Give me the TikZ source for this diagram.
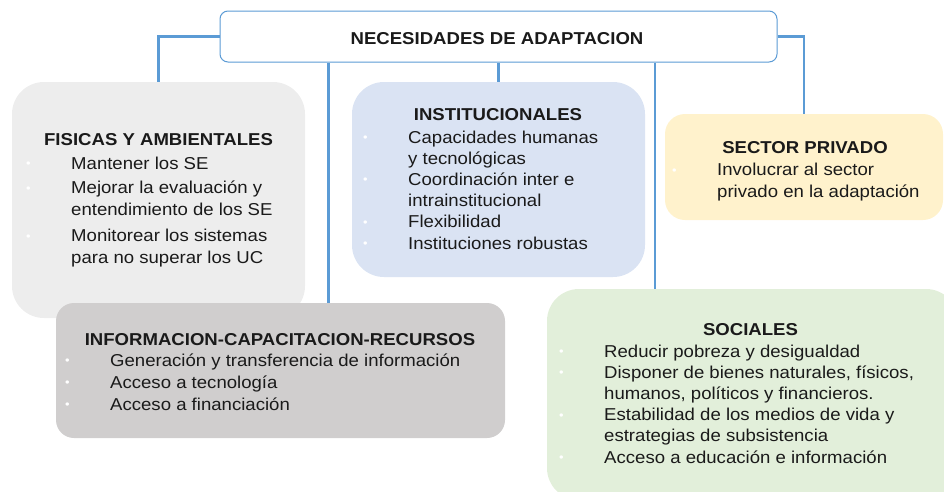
\documentclass[tikz,border=0pt]{standalone}
\usepackage{fontspec}
\setmainfont{Liberation Sans}[FakeStretch=1.08]
\definecolor{conn}{HTML}{5B9BD5}
\definecolor{fisc}{HTML}{EDEDED}
\definecolor{instc}{HTML}{DAE3F3}
\definecolor{privc}{HTML}{FFF2CC}
\definecolor{infoc}{HTML}{D0CECE}
\definecolor{socc}{HTML}{E2EFDA}
\definecolor{ink}{HTML}{1A1A1A}
\newcommand\myb{\makebox[45pt][l]{\textcolor{white}{\fontsize{12}{12}\selectfont\raisebox{1.5pt}{•}}}}
\newcommand\myc{\makebox[45pt]{}}
\begin{document}
\begin{tikzpicture}[x=1pt,y=-1pt,
  panel/.style={rounded corners=#1, inner sep=0pt, draw=none},
  ttl/.style={anchor=base, inner sep=0pt, text=ink, font=\fontsize{17.2}{21.3}\selectfont\bfseries},
  lst/.style={anchor=base west, inner sep=0pt, align=left, text=ink, font=\fontsize{17.2}{#1}\selectfont},
  link/.style={draw=conn, line width=2.6pt}]
\useasboundingbox (0,0) rectangle (944,491);
% boxes
\node[panel=32pt, fill=fisc, minimum width=293pt, minimum height=236pt] (fis) at (158.5,200) {};
\node[panel=32pt, fill=instc, minimum width=293pt, minimum height=195pt] (inst) at (498.5,179.5) {};
\node[panel=20pt, fill=privc, minimum width=278pt, minimum height=106pt] (priv) at (804,167) {};
\node[panel=18pt, fill=infoc, minimum width=449pt, minimum height=135pt] (info) at (280.5,370.5) {};
\node[panel=32pt, fill=socc, minimum width=411pt, minimum height=211pt] (soc) at (752.5,394.5) {};
\node[rounded corners=8pt, draw=conn, line width=1pt, fill=white, inner sep=0pt, minimum width=557pt, minimum height=51pt] (top) at (498.5,36.5) {};
% connectors
\draw[link] (top.west) -| (fis.north);
\draw[link] (top.east) -| (priv.north);
\draw[link] (inst.north |- top.south) -- (inst.north);
\draw[link] ([xshift=48pt]info.north |- top.south) -- ([xshift=48pt]info.north);
\draw[link] ([xshift=-97.5pt]soc.north |- top.south) -- ([xshift=-97.5pt]soc.north);
% titles
\node[ttl] (ttop) at (497,44) {NECESIDADES DE ADAPTACION};
\node[ttl] (tfis) at (158.5,145) {FISICAS Y AMBIENTALES};
\node[ttl] (tinst) at (498,120) {INSTITUCIONALES};
\node[ttl] (tpriv) at (805,153) {SECTOR PRIVADO};
\node[ttl] (tinfo) at (280,345) {INFORMACION-CAPACITACION-RECURSOS};
\node[ttl] (tsoc) at (750.5,335) {SOCIALES};
% lists (anchored at the baseline of their last line)
\node[lst=21.5] (lfis) at (26,263) {\myb Mantener los SE\\[3pt]
\myb Mejorar la evaluación y\\
\myc entendimiento de los SE\\[5pt]
\myb Monitorear los sistemas\\
\myc para no superar los UC};
\node[lst=21.2] (linst) at (363,249) {\myb Capacidades humanas\\
\myc y tecnológicas\\
\myb Coordinación inter e\\
\myc intrainstitucional\\
\myb Flexibilidad\\
\myb Instituciones robustas};
\node[lst=21.2] (lpriv) at (672,197) {\myb Involucrar al sector\\
\myc privado en la adaptación};
\node[lst=22] (linfo) at (65,410) {\myb Generación y transferencia de información\\
\myb Acceso a tecnología\\
\myb Acceso a financiación};
\node[lst=21.2] (lsoc) at (559,463) {\myb Reducir pobreza y desigualdad\\
\myb Disponer de bienes naturales, físicos,\\
\myc humanos, políticos y financieros.\\
\myb Estabilidad de los medios de vida y\\
\myc estrategias de subsistencia\\
\myb Acceso a educación e información};
\end{tikzpicture}
\end{document}
